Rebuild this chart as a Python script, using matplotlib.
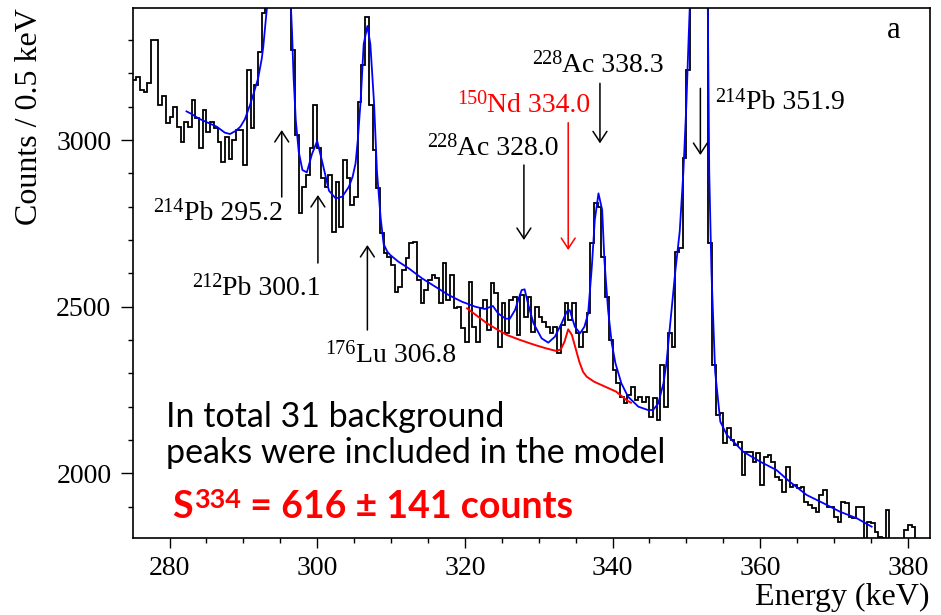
import numpy as np
import matplotlib
matplotlib.use('Agg')
import matplotlib.pyplot as plt
from matplotlib.ticker import MultipleLocator

SERIF = 'Liberation Serif'
SANS = 'Lato'
plt.rcParams['font.family'] = SERIF

# histogram, 0.5 keV bins starting at 275.0 keV
bin_start = 275.0
bin_width = 0.5
counts = [
    # 275 - 293
    3180, 3190, 3150, 3145, 3170, 3300, 3300, 3105, 3133, 3050,
    3070, 3100, 3040, 2995, 3055, 3040, 3120, 3065, 2975, 3090,
    3025, 3055, 3035, 2995, 2935, 3010, 2943, 3000, 3030, 3030,
    2925, 3210, 3035, 3165, 3265, 3380,
    # 293 - 296.5 (214Pb peak, off scale)
    3520, 4100, 5000, 5800, 5600, 4600, 3700,
    # 296.5 - 311
    3270, 3015, 2780, 2860, 2895, 2975, 3105, 2975, 2885, 2860,
    2895, 2725, 2875, 2740, 2940, 2885, 2805, 2830, 3115, 3225,
    3370, 3105, 2970, 2855, 2720, 2660, 2650, 2625, 2545,
    # 311 - 328.5
    2560, 2610, 2645, 2690, 2695, 2580, 2510, 2550, 2580, 2595,
    2585, 2510, 2630, 2520, 2595, 2495, 2500, 2435, 2395, 2575,
    2440, 2395, 2495, 2520, 2430, 2570, 2540, 2380, 2510, 2420,
    2520, 2530, 2415, 2535, 2470,
    # 328.5 - 340
    2530, 2425, 2500, 2470, 2455, 2440, 2420, 2440, 2360, 2445,
    2510, 2460, 2510, 2420, 2380, 2425, 2480, 2690, 2810, 2800,
    2650, 2530, 2400,
    # 340 - 350.5
    2310, 2270, 2230, 2210, 2235, 2260, 2220, 2230, 2215, 2230,
    2170, 2225, 2160, 2325, 2200, 2420, 2380, 2665, 2675, 2945,
    3210,
    # 350.5 - 353 (214Pb peak, off scale)
    3800, 6500, 10000, 7000, 4000,
    # 353 - 364
    2690, 2325, 2175, 2180, 2090, 2135, 2100, 2085, 2095, 1995,
    2065, 2065, 2035, 2060, 1965, 2050, 2055, 2035, 1990, 1980,
    1945, 2020,
    # 364 - 381.5
    1960, 1965, 1955, 1960, 1915, 1905, 1895, 1885, 1935, 1950,
    1900, 1900, 1870, 1855, 1915, 1910, 1870, 1865, 1900, 1900,
    1795, 1855, 1850, 1825, 1810, 1805, 1890, 1790, 1790, 1790,
    1790, 1830, 1845, 1840, 1790,
]

# full fit (blue)
fit_e = [282.3, 283.0, 283.9, 285.2, 286.4, 287.5, 288.2, 289.0, 289.6, 290.2,
         290.9, 291.4, 292.0, 292.5, 292.7, 293.1, 293.3, 294.0, 295.2, 296.0,
         296.4, 296.6, 296.8, 297.1, 297.5, 298.0, 298.6, 299.3, 300.0, 300.7,
         301.6, 302.5, 303.4, 304.3, 304.8, 305.2, 305.5, 305.9, 306.3, 306.8,
         307.2, 307.7, 308.1, 308.6, 309.0, 309.5, 309.9, 311.0, 312.4, 314.2,
         316.0, 317.8, 319.6, 321.4, 322.7, 323.3, 323.8, 324.5, 325.5, 326.1,
         326.8, 327.3, 327.7, 328.1, 328.6, 329.3, 330.4, 331.3, 332.2, 333.1,
         333.8, 334.2, 334.9, 335.6, 336.2, 336.7, 337.2, 337.6, 338.1, 338.6,
         338.9, 339.4, 339.9, 340.4, 341.2, 342.1, 343.5, 344.8, 345.5, 346.2,
         346.9, 347.3, 347.8, 348.5, 349.1, 349.6, 350.0, 350.3, 350.5, 351.9,
         352.9, 353.1, 353.4, 353.9, 354.6, 355.5, 357.7, 360.0, 362.2, 364.0,
         366.3, 368.6, 370.8, 373.1, 375.1]
fit_c = [3086, 3078, 3065, 3052, 3040, 3022, 3018, 3028, 3040, 3062,
         3105, 3140, 3185, 3245, 3280, 3375, 3420, 4200, 6000, 4500,
         3420, 3320, 3190, 3060, 2965, 2910, 2903, 2958, 2997, 2933,
         2848, 2825, 2830, 2860, 2890, 2930, 3000, 3122, 3288, 3342,
         3288, 3112, 2905, 2765, 2688, 2665, 2655, 2635, 2615, 2585,
         2560, 2535, 2515, 2500, 2493, 2498, 2502, 2480, 2464, 2464,
         2490, 2525, 2550, 2552, 2505, 2450, 2405, 2392, 2410, 2450,
         2485, 2490, 2440, 2420, 2440, 2480, 2620, 2760, 2840, 2790,
         2640, 2490, 2390, 2330, 2270, 2230, 2200, 2190, 2190, 2210,
         2270, 2330, 2445, 2605, 2725, 2905, 3105, 3300, 3420, 12000,
         3420, 2905, 2605, 2305, 2155, 2115, 2065, 2035, 2010, 1975,
         1935, 1910, 1885, 1865, 1840]

# background + 150Nd component (red)
bkg_e = [320.3, 321.5, 323.0, 324.5, 325.7, 327.5, 329.5, 331.0, 332.4, 333.0,
         333.5, 334.0, 334.5, 335.0, 335.5, 336.0, 336.5, 337.5, 339.0, 340.5,
         342.0, 342.5]
bkg_c = [2495, 2475, 2450, 2430, 2415, 2400, 2385, 2375, 2367, 2372,
         2395, 2432, 2415, 2375, 2335, 2305, 2290, 2275, 2260, 2245,
         2218, 2212]

# line labels: (mass number, rest of text, text x, text y, arrow x, arrow tail y, arrow tip y, colour)
labels = [
    ('214', 'Pb 295.2', 277.8, 2760, 295.2, 2829, 3030, 'black'),
    ('212', 'Pb 300.1', 283.0, 2535, 300.1, 2631, 2835, 'black'),
    ('176', 'Lu 306.8', 301.1, 2335, 306.8, 2430, 2685, 'black'),
    ('228', 'Ac 328.0', 314.85, 2955, 328.0, 2925, 2700, 'black'),
    ('150', 'Nd 334.0', 318.9, 3085, 334.0, 3052, 2670, 'red'),
    ('228', 'Ac 338.3', 329.1, 3205, 338.3, 3170, 2990, 'black'),
    ('214', 'Pb 351.9', 353.9, 3092, 351.9, 3155, 2955, 'black'),
]

edges = bin_start + bin_width * np.arange(len(counts) + 1)

fig = plt.figure(figsize=(9.41, 6.15), dpi=100)
ax = fig.add_axes([0.1413, 0.1252, 0.847, 0.8623])

ax.stairs(counts, edges, color='black', lw=1.3, baseline=None)
ax.plot(fit_e, fit_c, color='#0000ff', lw=1.3)
ax.plot(bkg_e, bkg_c, color='#ff0000', lw=1.4)

ax.set_xlim(275.05, 383.0)
ax.set_ylim(1806, 3397)
ax.xaxis.set_major_locator(MultipleLocator(20))
ax.xaxis.set_minor_locator(MultipleLocator(5))
ax.yaxis.set_major_locator(MultipleLocator(500))
ax.yaxis.set_minor_locator(MultipleLocator(100))
ax.tick_params(which='both', direction='out', top=False, right=False,
               labelsize=20, width=1.0, labelfontfamily=SERIF)
ax.tick_params(axis='x', which='major', length=7, pad=6)
ax.tick_params(axis='x', which='minor', length=3.5)
ax.tick_params(axis='y', which='major', length=8.5, pad=7)
ax.tick_params(axis='y', which='minor', length=3.8)
for sp in ax.spines.values():
    sp.set_linewidth(1.2)

ax.set_xlabel('Energy (keV)', fontsize=23, loc='right', family=SERIF)
ax.set_ylabel('Counts / 0.5 keV', fontsize=23, loc='top', family=SERIF)
ax.xaxis.set_label_coords(1.0, -0.085)
ax.yaxis.set_label_coords(-0.112, 1.0)

for mass, rest, tx, ty, axx, y0, y1, col in labels:
    sup = ax.annotate(mass, xy=(tx, ty), xytext=(0, 5.5), textcoords='offset points',
                      fontsize=14.5, family=SERIF, color=col, ha='left', va='baseline')
    ax.annotate(rest, xy=(1, ty), xycoords=(sup, 'data'), fontsize=20, family=SERIF,
                color=col, ha='left', va='baseline')
    ax.annotate('', xy=(axx, y1), xytext=(axx, y0),
                arrowprops=dict(arrowstyle='->,head_length=0.38,head_width=0.25',
                                color=col, lw=1.1, shrinkA=0, shrinkB=0,
                                mutation_scale=20))

ax.text(377.15, 3305, 'a', fontsize=22, family=SERIF, ha='left', va='baseline')

ax.text(279.55, 2140, 'In total 31 background', fontsize=24.5,
        family=SANS, ha='left', va='baseline')
ax.text(279.55, 2030, 'peaks were included in the model', fontsize=24.5,
        family=SANS, ha='left', va='baseline')

s_txt = ax.text(280.3, 1865, 'S', fontsize=27, family=SANS, weight='bold',
                color='red', ha='left', va='baseline')
s_sup = ax.annotate('334', xy=(1, 0), xycoords=s_txt, xytext=(1, 9),
                    textcoords='offset points', fontsize=19.5, family=SANS,
                    weight='bold', color='red', ha='left', va='bottom')
ax.annotate(' = 616 \u00b1 141 counts', xy=(1, 0), xycoords=(s_sup, s_txt),
            fontsize=27, family=SANS, weight='bold', color='red',
            ha='left', va='bottom')

fig.savefig('out.png', dpi=100)
